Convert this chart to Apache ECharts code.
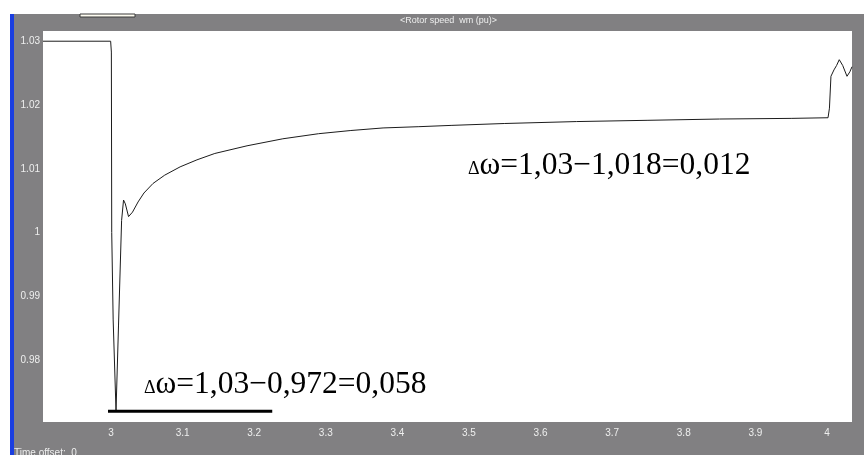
<!DOCTYPE html>
<html>
<head>
<meta charset="utf-8">
<script src="https://cdn.jsdelivr.net/npm/echarts@6/dist/echarts.min.js"></script>
<style>
  html, body { margin: 0; padding: 0; background: #ffffff; }
  #chart { width: 864px; height: 455px; }
</style>
</head>
<body>
<div id="chart"></div>
<script>
// Rotor speed wm (pu) versus simulation time (s)
const time = [
  2.905, 2.9995, 3.0005, 3.001, 3.003, 3.007, 3.0105, 3.0148, 3.0175, 3.020,
  3.0245, 3.030, 3.0378, 3.046, 3.0587, 3.075, 3.0965, 3.12, 3.145, 3.19,
  3.24, 3.29, 3.335, 3.38, 3.43, 3.475, 3.55, 3.65, 3.75, 3.85,
  3.95, 4.0015, 4.0035, 4.0056, 4.0098, 4.0135, 4.0172, 4.022, 4.028, 4.032,
  4.035
];
const rotorSpeed = [
  1.030, 1.030, 1.0283, 1.000, 0.9863, 0.972, 0.9855, 1.0019, 1.0051, 1.0045,
  1.0025, 1.0032, 1.0048, 1.0062, 1.0077, 1.0090, 1.0103, 1.0114, 1.0124, 1.0136,
  1.0147, 1.0155, 1.0160, 1.0164, 1.0166, 1.0168, 1.0171, 1.0174, 1.0176, 1.0178,
  1.0179, 1.018, 1.0195, 1.0245, 1.0255, 1.0262, 1.0271, 1.0262, 1.0245, 1.0252,
  1.0260
];

// Horizontal marker under the speed dip (level 0.972)
const dipMarkTime = [2.9958, 3.2252];
const dipMarkValue = [0.972, 0.972];

// Axis ticks
const xTicks = [3, 3.1, 3.2, 3.3, 3.4, 3.5, 3.6, 3.7, 3.8, 3.9, 4];
const xTickLabels = ['3', '3.1', '3.2', '3.3', '3.4', '3.5', '3.6', '3.7', '3.8', '3.9', '4'];
const yTicks = [0.98, 0.99, 1.0, 1.01, 1.02, 1.03];
const yTickLabels = ['0.98', '0.99', '1', '1.01', '1.02', '1.03'];

// Text
const titleText = '<Rotor speed  wm (pu)>';
const offsetText = 'Time offset:  0';
const noteUpper = '1,03\u22121,018=0,012';
const noteLower = '1,03\u22120,972=0,058';

const chart = echarts.init(document.getElementById('chart'), null, { renderer: 'canvas' });

const speedData = time.map((t, i) => [t, rotorSpeed[i]]);
const markData = dipMarkTime.map((t, i) => [t, dipMarkValue[i]]);

const labelFont = { color: '#eeeeee', fontFamily: 'Liberation Sans, Arial, sans-serif', fontSize: 10 };
const serif = 'Liberation Serif, Times New Roman, serif';

function noteText(left, top, body) {
  return {
    type: 'text',
    left: left,
    top: top,
    z: 100,
    style: {
      text: '{d|\u0394}{m|\u03c9=' + body + '}',
      rich: {
        d: { fontFamily: serif, fontSize: 18, fill: '#000', padding: [6, 0, 0, 0] },
        m: { fontFamily: serif, fontSize: 31.5, fill: '#000' }
      }
    }
  };
}

chart.setOption({
  animation: false,
  backgroundColor: '#ffffff',
  graphic: [
    { type: 'rect', shape: { x: 14, y: 14, width: 850, height: 441 }, style: { fill: '#818082' }, z: -10 },
    { type: 'rect', shape: { x: 10, y: 14, width: 4, height: 441 }, style: { fill: '#1a3ee0' }, z: -10 },
    { type: 'rect', shape: { x: 80, y: 14, width: 55, height: 3 }, style: { fill: '#fffdf2', stroke: '#3a3a3a', lineWidth: 1 }, z: -9 },
    {
      type: 'text', left: 400, top: 16, z: 10,
      style: { text: titleText, fill: '#eeeeee', font: '9px Liberation Sans, Arial, sans-serif' }
    },
    {
      type: 'text', left: 14, top: 448, z: 10,
      style: { text: offsetText, fill: '#eeeeee', font: '10px Liberation Sans, Arial, sans-serif' }
    },
    noteText(468, 150, noteUpper),
    noteText(144, 369, noteLower)
  ],
  grid: {
    left: 43, right: 12, top: 31, bottom: 33,
    show: true, backgroundColor: '#ffffff', borderWidth: 0
  },
  xAxis: {
    type: 'value', min: 2.905, max: 4.035,
    axisLine: { show: false },
    splitLine: { show: false },
    axisTick: { show: false },
    axisLabel: {
      ...labelFont, margin: 6,
      customValues: xTicks,
      formatter: v => xTickLabels[xTicks.findIndex(x => Math.abs(x - v) < 1e-6)] ?? ''
    }
  },
  yAxis: {
    type: 'value', min: 0.9703, max: 1.0316,
    axisLine: { show: false },
    splitLine: { show: false },
    axisTick: { show: false },
    axisLabel: {
      ...labelFont, margin: 3,
      customValues: yTicks,
      formatter: v => yTickLabels[yTicks.findIndex(y => Math.abs(y - v) < 1e-6)] ?? ''
    }
  },
  series: [
    {
      type: 'line', data: speedData, symbol: 'none', smooth: false,
      lineStyle: { color: '#1c1c1c', width: 1 }, z: 3
    },
    {
      type: 'line', data: markData, symbol: 'none',
      lineStyle: { color: '#000000', width: 3 }, z: 4
    }
  ]
});
</script>
</body>
</html>
